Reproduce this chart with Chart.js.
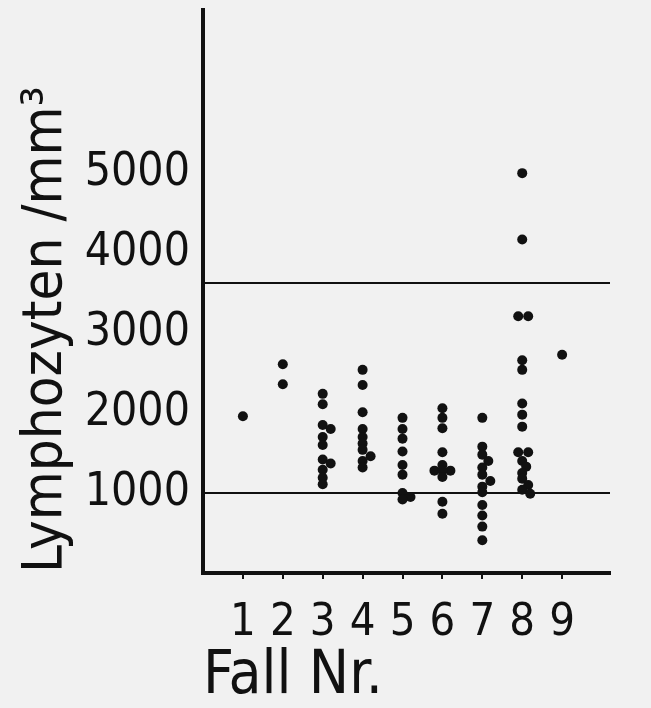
<!DOCTYPE html>
<html><head><meta charset="utf-8">
<script src="https://cdn.jsdelivr.net/npm/chart.js@4"></script>
<style>html,body{margin:0;padding:0;background:#f1f1f1;} canvas{display:block;}</style>
</head><body>
<canvas id="c" width="651" height="708"></canvas>
<script>
// ---- data ----
const caseNumbers = [1, 2, 3, 4, 5, 6, 7, 8, 9];
const yTickLabels = [1000, 2000, 3000, 4000, 5000];
const referenceLines = [1000, 3625];

const fall1 = [1960];
const fall2 = [2610, 2360];
const fall3 = [2240, 2110, 1850, 1800, 1700, 1600, 1420, 1370, 1290, 1190, 1110];
const fall4 = [2540, 2350, 2010, 1800, 1700, 1620, 1540, 1460, 1400, 1320];
const fall5 = [1940, 1800, 1680, 1520, 1350, 1230, 1000, 950, 920];
const fall6 = [2060, 1940, 1810, 1510, 1350, 1280, 1280, 1280, 1200, 890, 740];
const fall7 = [1940, 1580, 1480, 1400, 1320, 1230, 1150, 1080, 1010, 850, 720, 580, 410];
const fall8 = [5000, 4170, 3210, 3210, 2660, 2540, 2120, 1980, 1830, 1510, 1510, 1400, 1330, 1250, 1180, 1100, 1040, 990];
const fall9 = [2730];

// small sideways displacement of overlapping dots (in case units)
const shift1 = [0];
const shift2 = [0, 0];
const shift3 = [0, 0, 0, 0.2, 0, 0, 0, 0.2, 0, 0, 0];
const shift4 = [0, 0, 0, 0, 0, 0, 0, 0.2, 0, 0];
const shift5 = [0, 0, 0, 0, 0, 0, 0, 0.2, 0];
const shift6 = [0, 0, 0, 0, 0, -0.2, 0.2, 0, 0, 0, 0];
const shift7 = [0, 0, 0, 0.15, 0, 0, 0.2, 0, 0, 0, 0, 0, 0];
const shift8 = [0, 0, -0.1, 0.15, 0, 0, 0, 0, 0, -0.1, 0.15, 0, 0.1, 0, 0, 0.15, 0, 0.2];
const shift9 = [0];

const allValues = [fall1, fall2, fall3, fall4, fall5, fall6, fall7, fall8, fall9];
const allShifts = [shift1, shift2, shift3, shift4, shift5, shift6, shift7, shift8, shift9];

const points = [];
allValues.forEach((vals, i) => {
  vals.forEach((v, j) => points.push({ x: caseNumbers[i] + allShifts[i][j], y: v }));
});

const X_MAX = 10.2;
const FONT = "'DejaVu Sans Condensed', 'DejaVu Sans', sans-serif";
const INK = '#111';

const lineSets = referenceLines.map(v => ({
  type: 'line',
  data: [{ x: 0, y: v }, { x: X_MAX, y: v }],
  borderColor: INK, borderWidth: 2, pointRadius: 0, fill: false
}));

new Chart(document.getElementById('c'), {
  type: 'scatter',
  data: {
    datasets: [
      { data: points, backgroundColor: INK, borderWidth: 0, pointRadius: 5 },
      ...lineSets
    ]
  },
  options: {
    responsive: false, animation: false,
    layout: { padding: { left: 18, right: 41, top: 10, bottom: 0 } },
    plugins: { legend: { display: false }, tooltip: { enabled: false } },
    scales: {
      x: {
        type: 'linear', min: 0, max: X_MAX,
        afterBuildTicks: s => { s.ticks = caseNumbers.map(v => ({ value: v })); },
        afterFit: s => { s.height = 135; s.paddingLeft = 0; s.paddingRight = 0; },
        grid: { drawOnChartArea: false, drawTicks: true, tickLength: 6, color: INK, lineWidth: 2 },
        border: { display: true, color: INK, width: 4 },
        ticks: { font: { family: FONT, size: 45, lineHeight: 1 }, color: INK, padding: 22,
                 maxRotation: 0, autoSkip: false, callback: v => String(v) },
        title: { display: true, text: 'Fall Nr.', align: 'start', color: INK,
                 font: { family: FONT, size: 60, lineHeight: 1 }, padding: { top: 0, bottom: 1 } }
      },
      y: {
        min: 0, max: 7040,
        afterBuildTicks: s => { s.ticks = yTickLabels.map(v => ({ value: v })); },
        afterFit: s => { s.width = 185; s.paddingTop = 0; s.paddingBottom = 0; },
        grid: { display: false },
        border: { display: true, color: INK, width: 4 },
        ticks: { font: { family: FONT, size: 46, lineHeight: 1 }, color: INK, padding: 5,
                 callback: v => String(v) },
        title: { display: true, text: 'Lymphozyten /mm³', align: 'start', color: INK,
                 font: { family: FONT, size: 56, lineHeight: 1 }, padding: { top: 0, bottom: 0 } }
      }
    }
  }
});
</script>
</body></html>
